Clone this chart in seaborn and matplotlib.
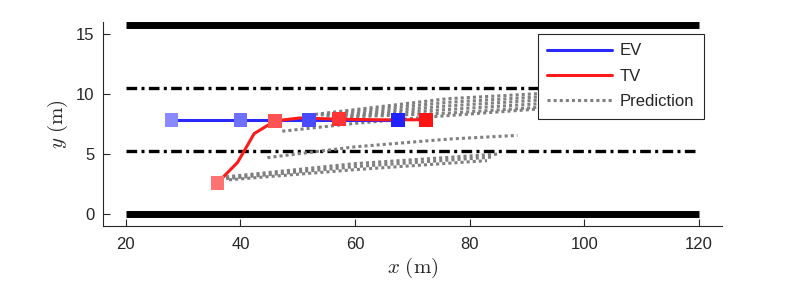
import matplotlib
matplotlib.use("Agg")
import matplotlib.pyplot as plt
import seaborn as sns
import pandas as pd
from matplotlib.lines import Line2D

sns.set_style("white")
plt.rcParams["font.family"] = ["Liberation Sans", "DejaVu Sans"]
plt.rcParams["mathtext.fontset"] = "cm"

# ---- data ----
road_x = [20, 120]
road_edges = [0.0, 15.75]
lane_marks = [5.25, 10.5]

ev_x = [28, 40, 52, 67.5]
ev_y = [7.85, 7.85, 7.85, 7.85]
ev_colors = ["#8a8aff", "#7070ff", "#4a4aff", "#2222ff"]

tv_path_x = [36, 39.5, 42.4, 46, 50.3, 57.2, 64, 72.4]
tv_path_y = [2.6, 4.3, 6.7, 7.75, 8.0, 7.9, 7.85, 7.85]
tv_x = [36, 46, 57.2, 72.4]
tv_y = [2.6, 7.75, 7.9, 7.85]
tv_colors = ["#ff7272", "#ff5252", "#ff3434", "#ff1414"]

pred_x = [
    [37.5, 60, 85],
    [37.5, 60, 84],
    [38, 60, 83],
    [44.7, 60, 76.5, 88.3],
    [47.3, 60, 72, 92, 100],
    [53, 76, 104],
    [54, 76, 104],
    [55, 76, 104],
    [56, 76, 104],
    [57, 76, 104],
]
pred_y = [
    [3.1, 4.2, 5.0],
    [2.95, 3.95, 4.75],
    [2.85, 3.7, 4.45],
    [4.7, 5.6, 6.25, 6.55],
    [6.9, 7.55, 8.05, 8.75, 9.0],
    [8.3, 9.6, 10.35],
    [8.25, 9.3, 10.1],
    [8.15, 9.0, 9.85],
    [8.1, 8.7, 9.55],
    [8.05, 8.4, 9.25],
]

fig = plt.figure(figsize=(7.97, 2.88), dpi=100)
ax = fig.add_axes([0.129, 0.215, 0.777, 0.709])

# road
for yv in road_edges:
    sns.lineplot(x=road_x, y=[yv, yv], ax=ax, color="black", lw=5, solid_capstyle="butt")
for yv in lane_marks:
    sns.lineplot(x=road_x, y=[yv, yv], ax=ax, color="black", lw=2.4,
                 dashes=(3.2, 1.3, 0.9, 1.3))

# predictions
for i, (px, py) in enumerate(zip(pred_x, pred_y)):
    df = pd.DataFrame({"x": px, "y": py})
    sns.lineplot(data=df, x="x", y="y", ax=ax, sort=False, estimator=None,
                 color="#808080", lw=2.2, dashes=(1, 1), dash_capstyle="butt")

# trajectories
sns.lineplot(x=ev_x, y=ev_y, ax=ax, sort=False, estimator=None, color="#2a2aff", lw=2.2)
sns.lineplot(x=tv_path_x, y=tv_path_y, ax=ax, sort=False, estimator=None, color="#ff1a1a", lw=2.2)
sns.scatterplot(x=ev_x, y=ev_y, ax=ax, marker="s", s=95,
                hue=list(range(len(ev_x))), palette=ev_colors, legend=False,
                linewidth=0, zorder=5)
sns.scatterplot(x=tv_x, y=tv_y, ax=ax, marker="s", s=95,
                hue=list(range(len(tv_x))), palette=tv_colors, legend=False,
                linewidth=0, zorder=5)

ax.set_xlim(16, 124)
ax.set_ylim(-1, 16)
ax.set_xticks([20, 40, 60, 80, 100, 120])
ax.set_yticks([0, 5, 10, 15])
for s in ["top", "right"]:
    ax.spines[s].set_visible(False)
for s in ["left", "bottom"]:
    ax.spines[s].set_color("#262626")
    ax.spines[s].set_linewidth(0.8)
ax.tick_params(direction="in", length=5, width=0.8, color="#262626",
               labelsize=12, labelcolor="#262626", bottom=True, left=True)
ax.tick_params(axis="x", pad=8)
ax.tick_params(axis="y", pad=6)
ax.set_xlabel(r"$x\ (\mathrm{m})$", fontsize=15, labelpad=3)
ax.set_ylabel(r"$y\ (\mathrm{m})$", fontsize=15, labelpad=4)

handles = [
    Line2D([], [], color="#2a2aff", lw=2.2),
    Line2D([], [], color="#ff1a1a", lw=2.2),
    Line2D([], [], color="#808080", lw=2.2, dashes=(1, 1)),
]
leg = ax.legend(handles, ["EV", "TV", "Prediction"], loc="upper right",
                bbox_to_anchor=(0.971, 0.942), fontsize=12, frameon=True,
                fancybox=False, framealpha=1, edgecolor="#262626",
                handlelength=3.9, handletextpad=0.45, labelspacing=0.62,
                borderpad=0.58, borderaxespad=0)
leg.get_frame().set_linewidth(0.8)
leg.set_zorder(10)

fig.savefig("out.png", dpi=100)
